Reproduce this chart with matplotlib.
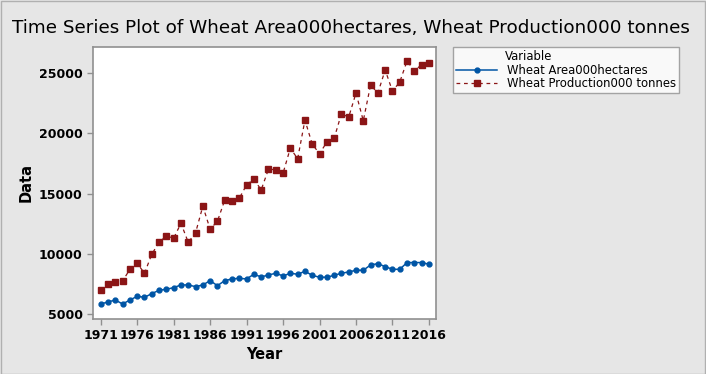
import numpy as np
import matplotlib
matplotlib.use('Agg')
import matplotlib.pyplot as plt

years = list(range(1971, 2017))
area = [5830, 6000, 6160, 5830, 6160, 6470, 6385, 6690, 6970, 7050,
        7190, 7410, 7410, 7270, 7410, 7770, 7350, 7770, 7910, 7960,
        7910, 8300, 8075, 8240, 8380, 8160, 8380, 8300, 8545, 8210,
        8050, 8050, 8210, 8380, 8490, 8630, 8630, 9070, 9180, 8930,
        8710, 8710, 9270, 9270, 9270, 9130]
production = [7000, 7490, 7630, 7740, 8710, 9210, 8380, 9960, 10950, 11480,
              11290, 12530, 10950, 11730, 13950, 12035, 12700, 14450, 14360, 14610,
              15720, 16190, 15300, 17020, 16970, 16690, 18770, 17880, 21090, 19100,
              18300, 19270, 19570, 21620, 21340, 23340, 21040, 24000, 23340, 25250,
              23500, 24250, 26000, 25190, 25690, 25800]
xticks = list(range(1971, 2017, 5))
yticks = [5000, 10000, 15000, 20000, 25000]

bg = '#e6e6e6'
fig = plt.figure(figsize=(7.06, 3.74), dpi=100, facecolor=bg)
fig.patches.append(plt.Rectangle((0.001, 0.001), 0.997, 0.997, transform=fig.transFigure,
                                 fill=False, edgecolor='#b0b0b0', linewidth=1))
ax = fig.add_axes([93/706, 1 - 319/374, (436-93)/706, (319-47)/374])
ax.set_facecolor('white')

ax.plot(years, area, color='#0055a5', linewidth=1.1, marker='o', markersize=3.5,
        label='Wheat Area000hectares')
ax.plot(years, production, color='#8b1516', linewidth=0.9, linestyle=(0, (3, 3)),
        marker='s', markersize=4, label='Wheat Production000 tonnes')

ax.set_xlim(1969.94, 2016.97)
ax.set_ylim(4585, 27160)
ax.set_xticks(xticks)
ax.set_yticks(yticks)
ax.tick_params(labelsize=9, colors='#000000', length=4, width=1)
for t in ax.get_xticklabels() + ax.get_yticklabels():
    t.set_fontweight('semibold')
ax.tick_params(axis='both', color='#909090')
for s in ax.spines.values():
    s.set_color('#909090')
    s.set_linewidth(1.2)

ax.set_xlabel('Year', fontsize=10.5, fontweight='bold', labelpad=3)
ax.set_ylabel('Data', fontsize=10.5, fontweight='bold', labelpad=4)

fig.text(0.497, 1 - 28/374, 'Time Series Plot of Wheat Area000hectares, Wheat Production000 tonnes',
         ha='center', va='center', fontsize=13.2)

# legend to the right of the axes, title lined up with the labels
handles, labels = ax.get_legend_handles_labels()
leg = fig.legend(handles, labels, title='Variable', loc='upper left',
                 bbox_to_anchor=(453/706, 1 - 47/374), fontsize=8.4, title_fontsize=8.4,
                 frameon=True, fancybox=False, borderpad=0.3, handlelength=3.5,
                 labelspacing=0.02, borderaxespad=0, alignment='left')
leg.get_title().set_position((48, 0))
leg.get_frame().set_edgecolor('#909090')
leg.get_frame().set_linewidth(1)

plt.savefig('out.png', dpi=100, facecolor=bg)
